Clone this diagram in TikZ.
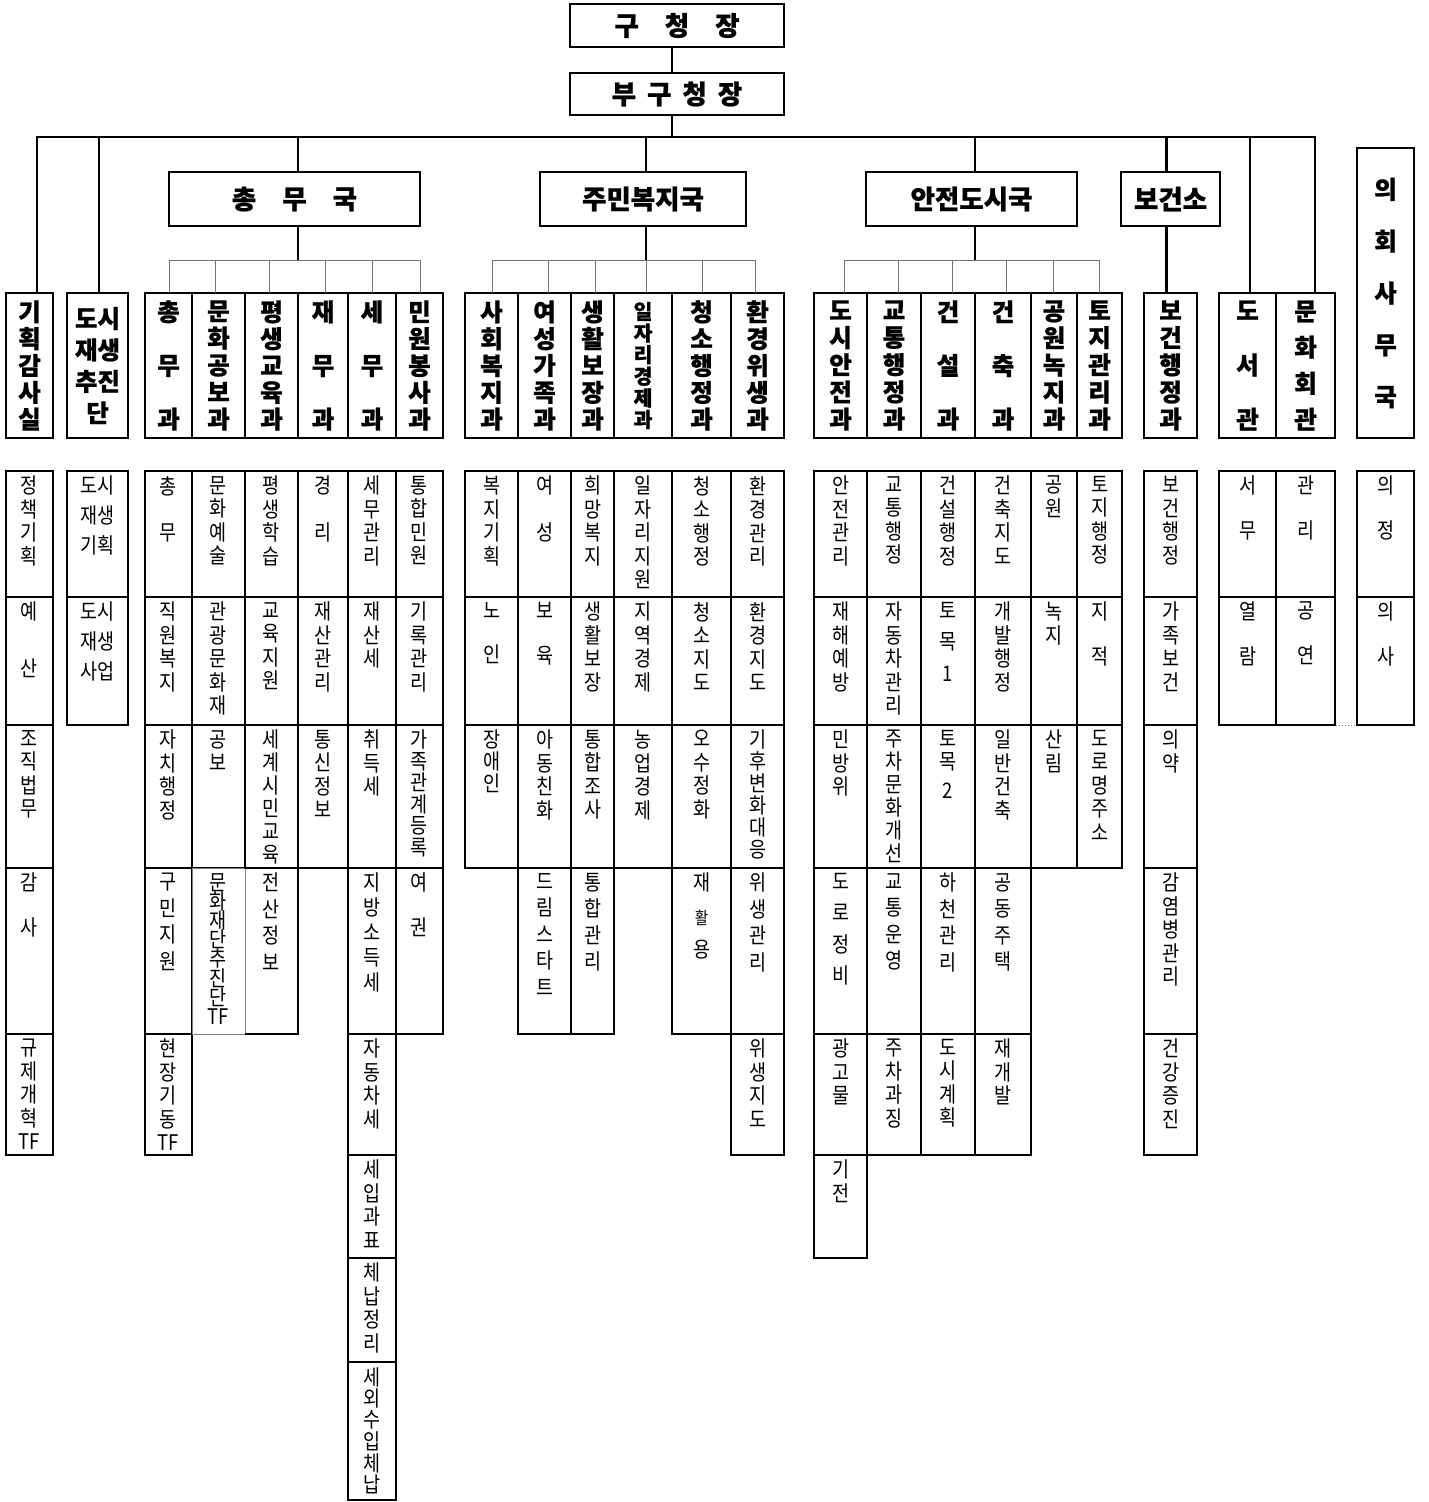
\documentclass[tikz,border=0pt]{standalone}
\usepackage{fontspec}
\newfontfamily\krt{Noto Sans CJK KR}[BoldFeatures={FakeBold=0.8}]
\newfontfamily\krc{Noto Sans CJK KR}[FakeStretch=0.86]
\newcounter{cellno}
\newcommand\vs{\par\vfill}
\newcommand\tightls{\lineskiplimit=-50pt\relax}
\tikzset{
  conn/.style={line width=2.8pt, line cap=rect},
  gridline/.style={line width=0.9pt, draw=black!55},
  hbox/.style={draw, line width=2.6pt, inner sep=0pt, outer sep=0pt,
    font=\krt\bfseries\fontsize{24.5}{26}\selectfont\tightls},
  tbox/.style={draw, line width=2.6pt, inner sep=0pt, outer sep=0pt,
    font=\krt\bfseries\fontsize{26.5}{28}\selectfont},
  cellframe/.style={draw, line width=2pt},
  cellgray/.style={draw=black!50, line width=1pt},
  celltext/.style={anchor=north, inner sep=0pt, align=center,
    font=\krc\fontsize{21.5}{23.5}\selectfont\tightls},
}
% header box: name, x1, x2, y1, y2, parbox height, text
\newcommand\hd[7]{%
  \node[hbox, minimum width={#3-#2}, minimum height={#5-#4}] (#1)
    at ({(#2+#3)/2},{(#4+#5)/2})
    {\parbox[c][#6pt][s]{\dimexpr #3pt-#2pt-4pt\relax}{\centering #7}};}
% cell: x1, x2, y1, y2, text
\newcommand\cl[5]{%
  \stepcounter{cellno}%
  \draw[cellframe] (#1,#3) rectangle (#2,#4);
  \node[celltext] (cell\arabic{cellno}) at ({(#1+#2)/2},{#3+5}) {#5};}
\newcommand\ct[5]{%
  \stepcounter{cellno}%
  \node[celltext] (cell\arabic{cellno}) at ({(#1+#2)/2},{#3+5}) {#5};}
\begin{document}
\begin{tikzpicture}[x=1pt,y=-1pt]
\useasboundingbox[fill=white] (0,0) rectangle (1429,1502);

% ---------- top ----------
\node[tbox, minimum width=214, minimum height=43] (gu) at (677,25.5) {구\hspace{26pt}청\hspace{26pt}장};
\node[tbox, minimum width=214, minimum height=42] (bugu) at (677,94) {부\hspace{11pt}구\hspace{11pt}청\hspace{11pt}장};

% ---------- bureaus ----------
\node[tbox, minimum width=251, minimum height=54] (chongmu) at (294.5,199) {총\hspace{26pt}무\hspace{26pt}국};
\node[tbox, minimum width=206, minimum height=54] (jumin) at (643,199) {주민복지국};
\node[tbox, minimum width=211, minimum height=54] (anjeon) at (971.5,199) {안전도시국};
\node[tbox, minimum width=99, minimum height=54] (bogeonso) at (1170.5,199) {보건소};

% ---------- headers ----------
\hd{gisa}{6}{53}{293}{438}{128}{기\vs 획\vs 감\vs 사\vs 실}
\hd{dosi}{67}{128}{293}{438}{115}{도시\vs 재생\vs 추진\vs 단}
\hd{hA1}{145}{192}{293}{438}{128}{총\vs 무\vs 과}
\hd{hA2}{192}{245}{293}{438}{128}{문\vs 화\vs 공\vs 보\vs 과}
\hd{hA3}{245}{298}{293}{438}{128}{평\vs 생\vs 교\vs 육\vs 과}
\hd{hA4}{298}{348}{293}{438}{128}{재\vs 무\vs 과}
\hd{hA5}{348}{396}{293}{438}{128}{세\vs 무\vs 과}
\hd{hA6}{396}{443}{293}{438}{128}{민\vs 원\vs 봉\vs 사\vs 과}
\hd{hB1}{465}{518}{293}{438}{128}{사\vs 회\vs 복\vs 지\vs 과}
\hd{hB2}{518}{571}{293}{438}{128}{여\vs 성\vs 가\vs 족\vs 과}
\hd{hB3}{571}{614}{293}{438}{128}{생\vs 활\vs 보\vs 장\vs 과}
\node[hbox, minimum width=58, minimum height=145] (hB4) at (643,365.5)
  {\parbox{54pt}{\centering\fontsize{20.5}{21.6}\selectfont\tightls 일\\자\\리\\경\\제\\과}};
\hd{hB5}{672}{731}{293}{438}{128}{청\vs 소\vs 행\vs 정\vs 과}
\hd{hB6}{731}{784}{293}{438}{128}{환\vs 경\vs 위\vs 생\vs 과}
\hd{hC1}{814}{867}{293}{438}{128}{도\vs 시\vs 안\vs 전\vs 과}
\hd{hC2}{867}{921}{293}{438}{128}{교\vs 통\vs 행\vs 정\vs 과}
\hd{hC3}{921}{975}{293}{438}{128}{건\vs 설\vs 과}
\hd{hC4}{975}{1031}{293}{438}{128}{건\vs 축\vs 과}
\hd{hC5}{1031}{1077}{293}{438}{128}{공\vs 원\vs 녹\vs 지\vs 과}
\hd{hC6}{1077}{1122}{293}{438}{128}{토\vs 지\vs 관\vs 리\vs 과}
\hd{hD}{1144}{1197}{293}{438}{128}{보\vs 건\vs 행\vs 정\vs 과}
\hd{hE1}{1219}{1276}{293}{438}{128}{도\vs 서\vs 관}
\hd{hE2}{1276}{1335}{293}{438}{128}{문\vs 화\vs 회\vs 관}
\hd{hF}{1357}{1414}{148}{438}{228}{의\vs 회\vs 사\vs 무\vs 국}

% ---------- connectors ----------
\coordinate (spine) at (672,137);
\draw[conn] (gu.south -| spine) -- (bugu.north -| spine);
\draw[conn] (bugu.south -| spine) -- (spine);
\coordinate (busL) at (37,137);
\coordinate (busR) at (1315,137);
\coordinate (d2) at (99,137);
\coordinate (d3) at (298,137);
\coordinate (d4) at (646,137);
\coordinate (d5) at (975,137);
\coordinate (d6) at (1166.5,137);
\coordinate (d7) at (1250,137);
\draw[conn] (busL) -- (busR);
\draw[conn] (busL) -- (busL |- gisa.north);
\draw[conn] (d2) -- (d2 |- dosi.north);
\draw[conn] (d3) -- (d3 |- chongmu.north);
\draw[conn] (d4) -- (d4 |- jumin.north);
\draw[conn] (d5) -- (d5 |- anjeon.north);
\draw[conn] (d6) -- (d6 |- bogeonso.north);
\draw[conn] (d7) -- (d7 |- hE1.north);
\draw[conn] (busR) -- (busR |- hE2.north);
\draw[conn] (bogeonso.south -| d6) -- (d6 |- hD.north);

% grid connectors
\coordinate (gA) at (298,260);
\coordinate (gB) at (646,260);
\coordinate (gC) at (975,260);
\draw[conn] (chongmu.south -| gA) -- (gA);
\draw[conn] (jumin.south -| gB) -- (gB);
\draw[conn] (anjeon.south -| gC) -- (gC);
\foreach \x [count=\i] in {169,215,269,325,372,420} \coordinate (gA\i) at (\x,260);
\foreach \x [count=\i] in {492,548,595,646,702,755} \coordinate (gB\i) at (\x,260);
\foreach \x [count=\i] in {844,898,952,1006,1053.5,1099} \coordinate (gC\i) at (\x,260);
\draw[gridline] (gA1) -- (gA6);
\draw[gridline] (gB1) -- (gB6);
\draw[gridline] (gC1) -- (gC6);
\foreach \i in {1,...,6} {
  \draw[gridline] (gA\i) -- (gA\i |- hA1.north);
  \draw[gridline] (gB\i) -- (gB\i |- hB1.north);
  \draw[gridline] (gC\i) -- (gC\i |- hC1.north);
}

% ---------- cells ----------
% 기획감사실
\cl{6}{53}{471}{597}{정\\책\\기\\획}
\cl{6}{53}{597}{725}{예\\[33pt]산}
\cl{6}{53}{725}{868}{조\\직\\법\\무}
\cl{6}{53}{868}{1034}{감\\[21pt]사}
\cl{6}{53}{1034}{1155}{규\\제\\개\\혁\\TF}
% 도시재생추진단
\cl{67}{128}{471}{597}{도시\\[6.5pt]재생\\[6.5pt]기획}
\cl{67}{128}{597}{725}{도시\\[6.5pt]재생\\[6.5pt]사업}
% 총무과
\cl{145}{192}{471}{597}{총\\[23pt]무}
\cl{145}{192}{597}{725}{직\\원\\복\\지}
\cl{145}{192}{725}{868}{자\\치\\행\\정}
\cl{145}{192}{868}{1034}{구\\[3pt]민\\[3pt]지\\[3pt]원}
\cl{145}{192}{1034}{1155}{현\\장\\기\\동\\TF}
% 문화공보과
\cl{192}{245}{471}{597}{문\\화\\예\\술}
\cl{192}{245}{597}{725}{관\\광\\문\\화\\재}
\cl{192}{245}{725}{868}{공\\보}
\draw[cellgray] (192,868) rectangle (245,1034);
\ct{192}{245}{868}{1034}{문\\[-4.3pt]화\\[-4.3pt]재\\[-4.3pt]단\\[-4.3pt]추\\[-4.3pt]진\\[-4.3pt]단\\[-4.3pt]TF}
% 평생교육과
\cl{245}{298}{471}{597}{평\\생\\학\\습}
\cl{245}{298}{597}{725}{교\\육\\지\\원}
\cl{245}{298}{725}{868}{세\\[-0.5pt]계\\[-0.5pt]시\\[-0.5pt]민\\[-0.5pt]교\\[-0.5pt]육}
\draw[cellgray] (245,868) -- (245,1034);
\draw[cellframe] (245,868) -- (298,868) -- (298,1034) -- (245,1034);
\ct{245}{298}{868}{1034}{전\\[3pt]산\\[3pt]정\\[3pt]보}
% 재무과
\cl{298}{348}{471}{597}{경\\[23pt]리}
\cl{298}{348}{597}{725}{재\\산\\관\\리}
\cl{298}{348}{725}{868}{통\\신\\정\\보}
% 세무과
\cl{348}{396}{471}{597}{세\\무\\관\\리}
\cl{348}{396}{597}{725}{재\\산\\세}
\cl{348}{396}{725}{868}{취\\득\\세}
\cl{348}{396}{868}{1034}{지\\[1.5pt]방\\[1.5pt]소\\[1.5pt]득\\[1.5pt]세}
\cl{348}{396}{1034}{1155}{자\\동\\차\\세}
\cl{348}{396}{1155}{1258}{세\\입\\과\\표}
\cl{348}{396}{1258}{1362}{체\\납\\정\\리}
\cl{348}{396}{1362}{1500}{세\\[-2pt]외\\[-2pt]수\\[-2pt]입\\[-2pt]체\\[-2pt]납}
% 민원봉사과
\cl{396}{443}{471}{597}{통\\합\\민\\원}
\cl{396}{443}{597}{725}{기\\록\\관\\리}
\cl{396}{443}{725}{868}{가\\[-2pt]족\\[-2pt]관\\[-2pt]계\\[-2pt]등\\[-2pt]록}
\cl{396}{443}{868}{1034}{여\\[21pt]권}
% 사회복지과
\cl{465}{518}{471}{597}{복\\지\\기\\획}
\cl{465}{518}{597}{725}{노\\[21pt]인}
\cl{465}{518}{725}{868}{장\\[-1.5pt]애\\[-1.5pt]인}
% 여성가족과
\cl{518}{571}{471}{597}{여\\[23pt]성}
\cl{518}{571}{597}{725}{보\\[21pt]육}
\cl{518}{571}{725}{868}{아\\동\\친\\화}
\cl{518}{571}{868}{1034}{드\\[3pt]림\\[3pt]스\\[3pt]타\\[3pt]트}
% 생활보장과
\cl{571}{614}{471}{597}{희\\망\\복\\지}
\cl{571}{614}{597}{725}{생\\활\\보\\장}
\cl{571}{614}{725}{868}{통\\합\\조\\사}
\cl{571}{614}{868}{1034}{통\\[3pt]합\\[3pt]관\\[3pt]리}
% 일자리경제과
\cl{614}{672}{471}{597}{일\\자\\리\\지\\원}
\cl{614}{672}{597}{725}{지\\역\\경\\제}
\cl{614}{672}{725}{868}{농\\업\\경\\제}
% 청소행정과
\cl{672}{731}{471}{597}{청\\소\\행\\정}
\cl{672}{731}{597}{725}{청\\소\\지\\도}
\cl{672}{731}{725}{868}{오\\수\\정\\화}
\cl{672}{731}{868}{1034}{재\\[10pt]{\fontsize{17}{17}\selectfont 활}\\[10pt]용}
% 환경위생과
\cl{731}{784}{471}{597}{환\\경\\관\\리}
\cl{731}{784}{597}{725}{환\\경\\지\\도}
\cl{731}{784}{725}{868}{기\\[-1.5pt]후\\[-1.5pt]변\\[-1.5pt]화\\[-1.5pt]대\\[-1.5pt]응}
\cl{731}{784}{868}{1034}{위\\[3pt]생\\[3pt]관\\[3pt]리}
\cl{731}{784}{1034}{1155}{위\\생\\지\\도}
% 도시안전과
\cl{814}{867}{471}{597}{안\\전\\관\\리}
\cl{814}{867}{597}{725}{재\\해\\예\\방}
\cl{814}{867}{725}{868}{민\\방\\위}
\cl{814}{867}{868}{1034}{도\\[8pt]로\\[8pt]정\\[8pt]비}
\cl{814}{867}{1034}{1155}{광\\고\\물}
\cl{814}{867}{1155}{1258}{기\\전}
% 교통행정과
\cl{867}{921}{471}{597}{교\\통\\행\\정}
\cl{867}{921}{597}{725}{자\\동\\차\\관\\리}
\cl{867}{921}{725}{868}{주\\[-0.5pt]차\\[-0.5pt]문\\[-0.5pt]화\\[-0.5pt]개\\[-0.5pt]선}
\cl{867}{921}{868}{1034}{교\\[3pt]통\\[3pt]운\\[3pt]영}
\cl{867}{921}{1034}{1155}{주\\차\\과\\징}
% 건설과
\cl{921}{975}{471}{597}{건\\설\\행\\정}
\cl{921}{975}{597}{725}{토\\[8pt]목\\[8pt]1}
\cl{921}{975}{725}{868}{토\\목\\[5pt]2}
\cl{921}{975}{868}{1034}{하\\[3pt]천\\[3pt]관\\[3pt]리}
\cl{921}{975}{1034}{1155}{도\\시\\계\\획}
% 건축과
\cl{975}{1031}{471}{597}{건\\축\\지\\도}
\cl{975}{1031}{597}{725}{개\\발\\행\\정}
\cl{975}{1031}{725}{868}{일\\반\\건\\축}
\cl{975}{1031}{868}{1034}{공\\[3pt]동\\[3pt]주\\[3pt]택}
\cl{975}{1031}{1034}{1155}{재\\개\\발}
% 공원녹지과
\cl{1031}{1077}{471}{597}{공\\원}
\cl{1031}{1077}{597}{725}{녹\\지}
\cl{1031}{1077}{725}{868}{산\\림}
% 토지관리과
\cl{1077}{1122}{471}{597}{토\\지\\행\\정}
\cl{1077}{1122}{597}{725}{지\\[21pt]적}
\cl{1077}{1122}{725}{868}{도\\로\\명\\주\\소}
% 보건행정과
\cl{1144}{1197}{471}{597}{보\\건\\행\\정}
\cl{1144}{1197}{597}{725}{가\\족\\보\\건}
\cl{1144}{1197}{725}{868}{의\\약}
\cl{1144}{1197}{868}{1034}{감\\염\\병\\관\\리}
\cl{1144}{1197}{1034}{1155}{건\\강\\증\\진}
% 도서관 / 문화회관
\cl{1219}{1276}{471}{597}{서\\[21pt]무}
\cl{1219}{1276}{597}{725}{열\\[21pt]람}
\cl{1276}{1335}{471}{597}{관\\[21pt]리}
\cl{1276}{1335}{597}{725}{공\\[21pt]연}
% 의회사무국
\cl{1357}{1414}{471}{597}{의\\[21pt]정}
\cl{1357}{1414}{597}{725}{의\\[21pt]사}
\coordinate (dotA) at (1336,725);
\coordinate (dotB) at (1356,725);
\draw[black!50, line width=1pt, dotted] (dotA) -- (dotB);
\end{tikzpicture}
\end{document}
